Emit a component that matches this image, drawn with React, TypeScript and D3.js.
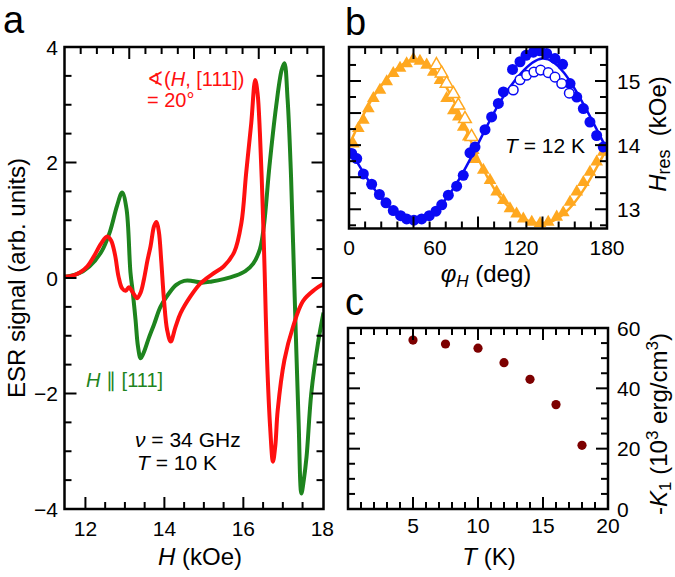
import * as d3 from "d3";

const FONT = "Liberation Sans, Arial, Helvetica, sans-serif";

// ---- panel a: ESR spectra (H in kOe, signal in arb. units)
const greenH = [11.47, 11.8, 12.1, 12.4, 12.62, 12.8, 12.93, 13.04, 13.14, 13.2, 13.27, 13.33, 13.4, 13.5, 13.6, 13.74, 13.9, 14.08, 14.3, 14.5, 14.7, 14.95, 15.2, 15.5, 15.8, 16.05, 16.25, 16.42, 16.52, 16.66, 16.83, 16.97, 17.04, 17.12, 17.2, 17.26, 17.33, 17.4, 17.47, 17.53, 17.6, 17.72, 17.89, 18.03];
const greenS = [0.02, 0.07, 0.2, 0.45, 0.8, 1.25, 1.48, 1.2, 0.1, -0.25, -0.73, -1.18, -1.39, -1.25, -1.05, -0.8, -0.5, -0.3, -0.12, -0.05, -0.05, -0.08, -0.06, -0.02, 0.04, 0.12, 0.25, 0.5, 0.9, 1.93, 2.97, 3.6, 3.72, 3.1, 1.9, 0.6, -1.0, -2.5, -3.73, -3.5, -3.1, -2.0, -1.13, -0.6];
const redH = [11.47, 11.62, 11.87, 12.05, 12.21, 12.4, 12.55, 12.65, 12.75, 12.84, 12.93, 13.02, 13.1, 13.2, 13.31, 13.4, 13.48, 13.57, 13.65, 13.74, 13.8, 13.86, 13.92, 13.99, 14.07, 14.16, 14.28, 14.41, 14.66, 14.92, 15.2, 15.5, 15.77, 15.95, 16.07, 16.2, 16.3, 16.36, 16.42, 16.49, 16.54, 16.6, 16.68, 16.75, 16.81, 16.87, 17.04, 17.26, 17.51, 17.81, 18.03];
const redS = [0.02, 0.03, 0.1, 0.2, 0.37, 0.6, 0.72, 0.65, 0.4, 0.02, -0.18, -0.22, -0.16, -0.25, -0.35, -0.25, -0.03, 0.3, 0.55, 0.9, 0.97, 0.8, 0.3, -0.38, -0.9, -1.1, -0.85, -0.61, -0.32, -0.09, 0.06, 0.2, 0.45, 0.95, 1.81, 2.68, 3.43, 3.2, 2.5, 1.23, 0.1, -1.4, -2.6, -3.18, -2.9, -2.29, -1.42, -0.84, -0.4, -0.2, -0.1];
const xTicksA = [12, 14, 16, 18];
const yTicksA = [-4, -2, 0, 2, 4];

// ---- panel b: angular dependence of resonance field
const triPhi = [3, 6.5, 10, 13.5, 17, 21.6, 26.3, 30.9, 35.6, 40.2, 44.9, 49.5, 54.2, 58.8, 63.5, 68.1, 72.8, 76.3, 79.7, 83.2, 86.7, 88, 93.7, 98.4, 103, 107.7, 112.3, 116.9, 121.6, 127.5, 133.3, 139, 144.9, 149.5, 154.2, 158.9, 163.5, 168.1, 172.8, 177.4];
const triH = [14.02, 14.26, 14.39, 14.57, 14.73, 14.86, 14.99, 15.12, 15.2, 15.27, 15.34, 15.31, 15.25, 15.14, 15.01, 14.73, 14.54, 14.44, 14.28, 14.13, 13.92, 13.78, 13.61, 13.45, 13.27, 13.14, 13.01, 12.93, 12.85, 12.8, 12.78, 12.8, 12.88, 12.95, 13.11, 13.27, 13.42, 13.58, 13.74, 13.89];
const openTriPhi = [61, 64.6, 68.1, 72.8, 76.3, 80.9, 85.5];
const openTriH = [15.25, 15.12, 14.96, 14.8, 14.62, 14.41, 14.13];
const dotPhi = [1.9, 5.4, 10, 15.8, 21.2, 25.8, 30.9, 36, 40.2, 45.3, 50.7, 56, 60.7, 64.7, 69.3, 75.1, 79.7, 84.4, 87.9, 94.9, 99.5, 104.2, 107.7, 114.1, 119.3, 123.5, 128.6, 133.3, 137.9, 143.7, 149, 154.2, 158.9, 163.5, 168.1, 172.8, 177.4];
const dotH = [13.87, 13.79, 13.55, 13.39, 13.23, 13.1, 12.98, 12.9, 12.85, 12.83, 12.85, 12.9, 12.97, 13.07, 13.22, 13.36, 13.53, 13.88, 13.97, 14.24, 14.44, 14.65, 14.83, 15.18, 15.3, 15.4, 15.45, 15.47, 15.43, 15.35, 15.26, 14.96, 14.75, 14.57, 14.36, 14.15, 13.97];
const openDotPhi = [114.6, 119.3, 123.9, 129, 133.7, 139, 143.7, 148.4, 153.7];
const openDotH = [14.86, 15.02, 15.09, 15.14, 15.17, 15.13, 15.06, 14.96, 14.81];
const fitPhi = [0, 15, 30, 45, 60, 75, 90, 105, 120, 135, 150, 165, 180];
const fitBlue = [13.95, 13.4, 13.0, 12.84, 12.98, 13.4, 14.02, 14.66, 15.12, 15.35, 15.13, 14.58, 13.93];
const fitOrange = [14.0, 14.68, 15.12, 15.33, 15.15, 14.6, 13.8, 13.2, 12.88, 12.78, 12.93, 13.35, 13.95];
const xTicksB = [0, 60, 120, 180];
const yTicksB = [13, 14, 15];

// ---- panel c: anisotropy constant vs temperature
const tempK = [5, 7.5, 10, 12, 14, 16, 18];
const k1 = [56, 54.7, 53.3, 48.5, 43, 34.6, 21.1];
const xTicksC = [5, 10, 15, 20];
const yTicksC = [0, 20, 40, 60];

const RED = "#ff1010";
const GREEN = "#1e841e";
const BLUE = "#0a0af5";
const ORANGE = "#ffa820";
const DARKRED = "#7d0000";

const fmt = (v: number) => (v < 0 ? "\u2212" + Math.abs(v) : String(v));

type Side = "top" | "bottom" | "left" | "right";

function Ticks({ values, scale, side, at, isLong, shortLen = 7, longLen = 12 }: any) {
  return (
    <g stroke="#000" strokeWidth={2}>
      {values.map((v: number, i: number) => {
        const p = scale(v);
        const L = isLong(v, i) ? longLen : shortLen;
        const s = side as Side;
        if (s === "bottom") return <line key={i} x1={p} x2={p} y1={at} y2={at - L} />;
        if (s === "top") return <line key={i} x1={p} x2={p} y1={at} y2={at + L} />;
        if (s === "left") return <line key={i} y1={p} y2={p} x1={at} x2={at + L} />;
        return <line key={i} y1={p} y2={p} x1={at} x2={at - L} />;
      })}
    </g>
  );
}

const near = (a: number, b: number) => Math.abs(a - b) < 1e-6;

export default function App() {
  // scales
  const xA = d3.scaleLinear().domain([11.47, 18.03]).range([64.5, 323.5]);
  const yA = d3.scaleLinear().domain([-4, 4]).range([509, 47]);
  const xB = d3.scaleLinear().domain([0, 180]).range([349, 607]);
  const yB = d3.scaleLinear().domain([12.7, 15.53]).range([228.5, 47]);
  const xC = d3.scaleLinear().domain([0, 20]).range([348, 608]);
  const yC = d3.scaleLinear().domain([0, 60]).range([509, 328]);

  const lineA = d3
    .line<number>()
    .curve(d3.curveCatmullRom.alpha(0.5));
  const greenPath = lineA.x((_, i) => xA(greenH[i])).y((d) => yA(d))(greenS) as string;
  const redPath = lineA.x((_, i) => xA(redH[i])).y((d) => yA(d))(redS) as string;

  const lineB = d3.line<number>().curve(d3.curveNatural).x((_, i) => xB(fitPhi[i]));
  const bluePath = lineB.y((d) => yB(d))(fitBlue) as string;
  const orangePath = lineB.y((d) => yB(d))(fitOrange) as string;

  const tri = d3.symbol().type(d3.symbolTriangle).size(70)() as string;

  const [a0, a1] = xA.domain();
  const topA = d3.range(1, 16).map((i) => a0 + (i * (a1 - a0)) / 16);
  const botA = d3.range(12, 18, 0.5);
  const sideA = d3.range(-3.5, 4, 0.5);
  const ticksB_x = d3.range(11.25, 180, 11.25);
  const ticksB_y = d3.range(12.75, 15.4, 0.25);
  const ticksC_x = d3.range(1, 20, 1);
  const ticksC_y = d3.range(5, 60, 5);

  return (
    <svg
      width={675}
      height={577}
      style={{ position: "absolute", left: 0, top: 0, background: "#fff" }}
      fontFamily={FONT}
    >
      <defs>
        <clipPath id="clipA">
          <rect x={64.5} y={47} width={259} height={462} />
        </clipPath>
        <clipPath id="clipB">
          <rect x={349} y={47} width={258} height={181.5} />
        </clipPath>
      </defs>

      {/* ---------- panel a ---------- */}
      <text x={3} y={33} fontSize={38}>a</text>
      <g clipPath="url(#clipA)" fill="none" strokeWidth={4} strokeLinejoin="round">
        <path d={greenPath} stroke={GREEN} />
        <path d={redPath} stroke={RED} />
      </g>
      <Ticks values={botA} scale={xA} side="bottom" at={509} isLong={(v: number) => near(v % 2, 0)} />
      <Ticks values={topA} scale={xA} side="top" at={47} isLong={(_: number, i: number) => (i + 1) % 4 === 0} />
      <Ticks values={sideA} scale={yA} side="left" at={64.5} isLong={(v: number) => near(Math.abs(v) % 2, 0)} />
      <Ticks values={sideA} scale={yA} side="right" at={323.5} isLong={(v: number) => near(Math.abs(v) % 2, 0)} />
      <rect x={64.5} y={47} width={259} height={462} fill="none" stroke="#000" strokeWidth={2.5} />
      <g fontSize={21} textAnchor="middle">
        {xTicksA.map((v) => (
          <text key={v} x={xA(v)} y={536}>{v}</text>
        ))}
      </g>
      <g fontSize={21} textAnchor="end">
        {yTicksA.map((v) => (
          <text key={v} x={58} y={yA(v)} dy="0.36em">{fmt(v)}</text>
        ))}
      </g>
      <text fontSize={24} textAnchor="middle" transform="translate(25,278) rotate(-90)">
        ESR signal (arb. units)
      </text>
      <text x={200} y={565} fontSize={24} textAnchor="middle">
        <tspan fontStyle="italic">H</tspan> (kOe)
      </text>
      <g fontSize={20} fill={RED}>
        <text x={147} y={86}>
          {"\u2222("}
          <tspan fontStyle="italic">H</tspan>, [111])
        </text>
        <text x={147} y={107}>= 20°</text>
      </g>
      <text x={86} y={387} fontSize={20} fill={GREEN}>
        <tspan fontStyle="italic">H</tspan> {"\u2225"} [111]
      </text>
      <g fontSize={21}>
        <text x={135} y={447}>
          <tspan fontStyle="italic">{"\u03bd"}</tspan> = 34 GHz
        </text>
        <text x={137} y={470}>
          <tspan fontStyle="italic">T</tspan> = 10 K
        </text>
      </g>

      {/* ---------- panel b ---------- */}
      <text x={345} y={35} fontSize={38}>b</text>
      <g clipPath="url(#clipB)">
        <path d={orangePath} fill="none" stroke={ORANGE} strokeWidth={2.5} />
        {triPhi.map((p, i) => (
          <path key={"t" + i} d={tri} transform={`translate(${xB(p)},${yB(triH[i])})`} fill={ORANGE} />
        ))}
        {openTriPhi.map((p, i) => (
          <path
            key={"ot" + i}
            d={tri}
            transform={`translate(${xB(p)},${yB(openTriH[i])})`}
            fill="#fff"
            stroke={ORANGE}
            strokeWidth={1.5}
          />
        ))}
        <path d={bluePath} fill="none" stroke={BLUE} strokeWidth={2.5} />
        {dotPhi.map((p, i) => (
          <circle key={"d" + i} cx={xB(p)} cy={yB(dotH[i])} r={5.5} fill={BLUE} />
        ))}
        {openDotPhi.map((p, i) => (
          <circle
            key={"od" + i}
            cx={xB(p)}
            cy={yB(openDotH[i])}
            r={4.8}
            fill="#fff"
            stroke={BLUE}
            strokeWidth={1.5}
          />
        ))}
      </g>
      <Ticks values={ticksB_x} scale={xB} side="bottom" at={228.5} isLong={(_: number, i: number) => (i + 1) % 4 === 0} />
      <Ticks values={ticksB_x} scale={xB} side="top" at={47} isLong={(_: number, i: number) => (i + 1) % 4 === 0} />
      <Ticks values={ticksB_y} scale={yB} side="left" at={349} isLong={(v: number) => near((v * 2) % 1, 0)} />
      <Ticks values={ticksB_y} scale={yB} side="right" at={607} isLong={(v: number) => near((v * 2) % 1, 0)} />
      <rect x={349} y={47} width={258} height={181.5} fill="none" stroke="#000" strokeWidth={2.5} />
      <g fontSize={21} textAnchor="middle">
        {xTicksB.map((v) => (
          <text key={v} x={xB(v)} y={255}>{v}</text>
        ))}
      </g>
      <g fontSize={21}>
        {yTicksB.map((v) => (
          <text key={v} x={617} y={yB(v)} dy="0.36em">{v}</text>
        ))}
      </g>
      <text x={505} y={153} fontSize={21}>
        <tspan fontStyle="italic">T</tspan> = 12 K
      </text>
      <text x={486} y={282} fontSize={24} textAnchor="middle">
        <tspan fontStyle="italic">{"\u03c6"}</tspan>
        <tspan fontStyle="italic" fontSize={17} dy={5}>H</tspan>
        <tspan dy={-5}> (deg)</tspan>
      </text>
      <text fontSize={24} textAnchor="middle" transform="translate(666,134) rotate(-90)">
        <tspan fontStyle="italic">H</tspan>
        <tspan fontSize={18} dy={4}>res</tspan>
        <tspan dy={-4}>{"\u00a0 (kOe)"}</tspan>
      </text>

      {/* ---------- panel c ---------- */}
      <text x={345} y={315} fontSize={38}>c</text>
      {tempK.map((t, i) => (
        <circle key={t} cx={xC(t)} cy={yC(k1[i])} r={4.6} fill={DARKRED} />
      ))}
      <Ticks values={ticksC_x} scale={xC} side="bottom" at={509} isLong={(v: number) => v % 5 === 0} />
      <Ticks values={ticksC_x} scale={xC} side="top" at={328} isLong={(v: number) => v % 5 === 0} />
      <Ticks values={ticksC_y} scale={yC} side="left" at={348} isLong={(v: number) => v % 20 === 0} />
      <Ticks values={ticksC_y} scale={yC} side="right" at={608} isLong={(v: number) => v % 20 === 0} />
      <rect x={348} y={328} width={260} height={181} fill="none" stroke="#000" strokeWidth={2.5} />
      <g fontSize={21} textAnchor="middle">
        {xTicksC.map((v) => (
          <text key={v} x={xC(v)} y={533}>{v}</text>
        ))}
      </g>
      <g fontSize={21}>
        {yTicksC.map((v) => (
          <text key={v} x={617} y={yC(v)} dy="0.36em">{v}</text>
        ))}
      </g>
      <text x={489} y={565} fontSize={24} textAnchor="middle">
        <tspan fontStyle="italic">T</tspan> (K)
      </text>
      <text fontSize={24} textAnchor="middle" transform="translate(667,424) rotate(-90)">
        -<tspan fontStyle="italic">K</tspan>
        <tspan fontSize={17} dy={4}>1</tspan>
        <tspan dy={-4}> (10</tspan>
        <tspan fontSize={17} dy={-9}>3</tspan>
        <tspan dy={9}> erg/cm</tspan>
        <tspan fontSize={17} dy={-9}>3</tspan>
        <tspan dy={9}>)</tspan>
      </text>
    </svg>
  );
}
